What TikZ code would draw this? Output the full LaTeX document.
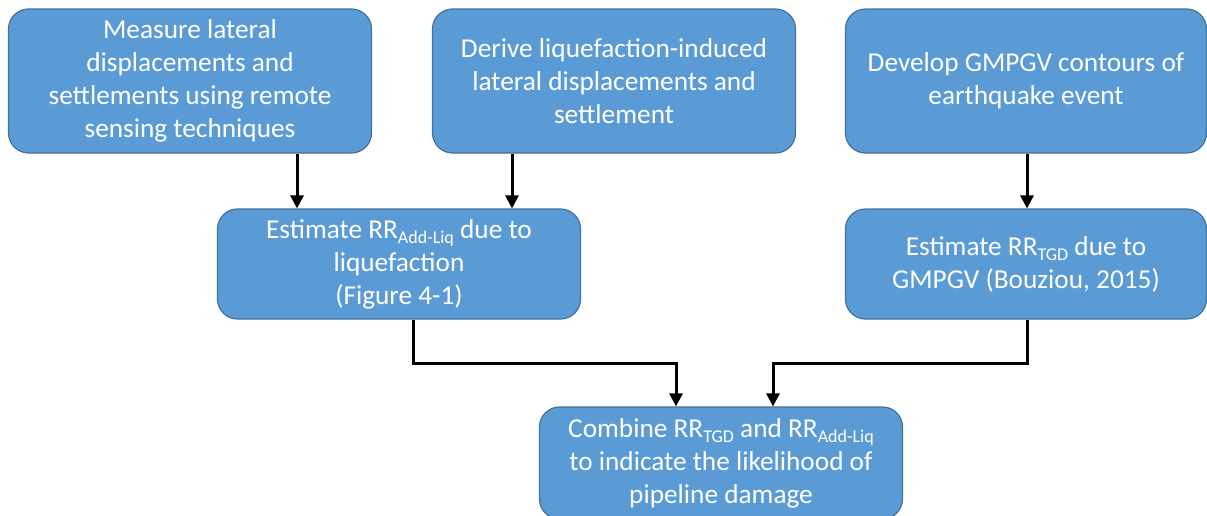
\documentclass[tikz,border=0pt]{standalone}
\usepackage{fontspec}
\setmainfont{Carlito}
\usetikzlibrary{arrows.meta}
\definecolor{boxfill}{HTML}{5B9BD5}
\definecolor{boxline}{HTML}{41719C}
% lowered, smaller text for the RR subscripts
\newcommand\subtxt[1]{\raisebox{-5.5pt}{\fontsize{18}{18}\selectfont #1}}
\begin{document}
\begin{tikzpicture}[x=1pt,y=-1pt,
  stepbox/.style={draw=boxline, line width=1.2pt, fill=boxfill, rounded corners=20pt,
    text=white, align=center, inner sep=0pt,
    font=\fontsize{27.3}{33}\selectfont},
  arr/.style={line width=3pt, -{Triangle[length=13pt,width=13pt]}}]
\clip (0,0) rectangle (1207,515);
\fill[white] (0,0) rectangle (1207,515);

% top row
\node[stepbox, minimum width=363pt, minimum height=144pt] (A) at (190,81)
  {Measure lateral\\displacements and\\settlements using remote\\sensing techniques};
\node[stepbox, minimum width=363pt, minimum height=144pt] (B) at (614,81)
  {Derive liquefaction-induced\\lateral displacements and\\settlement};
\node[stepbox, minimum width=361pt, minimum height=144pt] (C) at (1026,81)
  {Develop GMPGV contours of\\earthquake event};

% middle row
\node[stepbox, minimum width=363pt, minimum height=110pt] (D) at (399,264)
  {Estimate RR\subtxt{Add-Liq} due to\\liquefaction\\(Figure 4-1)};
\node[stepbox, minimum width=361pt, minimum height=110pt] (E) at (1026,264)
  {Estimate RR\subtxt{TGD} due to\\GMPGV (Bouziou, 2015)};

% bottom box
\node[stepbox, minimum width=363pt, minimum height=112pt] (F) at (721,463)
  {Combine RR\subtxt{TGD} and RR\subtxt{Add-Liq}\\to indicate the likelihood of\\pipeline damage};

% connectors
\draw[arr] (A.south -| 297,0) -- (D.north -| 297,0);
\draw[arr] (B.south -| 512,0) -- (D.north -| 512,0);
\draw[arr] (C.south -| 1027,0) -- (E.north -| 1027,0);
\draw[arr] (D.south -| 413,0) -- (413,363) -- (676,363) -- (F.north -| 676,0);
\draw[arr] (E.south -| 1027,0) -- (1027,363) -- (773,363) -- (F.north -| 773,0);
\end{tikzpicture}
\end{document}
